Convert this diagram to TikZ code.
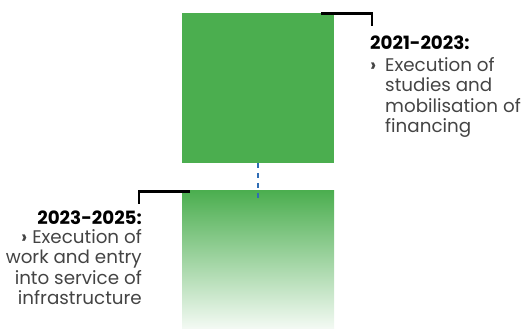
\documentclass[tikz,border=0pt]{standalone}
\usepackage{fontspec}
\setmainfont{Poppins}
\definecolor{grn}{HTML}{4BAE4F}
\definecolor{dashblue}{HTML}{2F6DB5}
\definecolor{bodytxt}{HTML}{444444}
\begin{document}
\begin{tikzpicture}[x=1pt,y=-1pt,
  bracket/.style={draw=black,line width=2.2pt},
  headtxt/.style={inner sep=0pt,font=\fontsize{18.3}{20.6}\selectfont\bfseries,text=black},
  bodytext/.style={inner sep=0pt,font=\fontsize{18.3}{20.6}\selectfont,text=bodytxt}]
\useasboundingbox (0,0) rectangle (522,329);
% boxes
\node[fill=grn,minimum width=152pt,minimum height=150pt,inner sep=0pt,anchor=north west] (top) at (182,13) {};
\node[top color=grn,bottom color=grn!6,minimum width=152pt,minimum height=139pt,inner sep=0pt,anchor=north west] (bot) at (182,190) {};
% dashed link
\coordinate (dashend) at (258,198);
\draw[dashblue,line width=2.6pt,dash pattern=on 5pt off 5pt] (top.south -| dashend) -- (dashend);
% top label
\node[headtxt,anchor=base west] (h1) at (370,50) {2021-2023:};
\node[bodytext,anchor=base west] (b1) at (370,71) {%
  \begin{tabular}[t]{@{}p{15pt}@{}l@{}}
  \textbf{›} & Execution of\\
  & studies and\\
  & mobilisation of\\
  & financing
  \end{tabular}};
\coordinate (t1a) at (321,13.5);
\coordinate (t1b) at (372,26);
\draw[bracket] (t1a) -- (t1a -| t1b) -- (t1b);
% bottom label
\node[headtxt,anchor=base east] (h2) at (142,224) {2023-2025:};
\node[bodytext,anchor=base east] (b2) at (142,243) {%
  \begin{tabular}[t]{@{}r@{}}
  \textbf{›} Execution of\\
  work and entry\\
  into service of\\
  infrastructure
  \end{tabular}};
\coordinate (t2a) at (190,191.5);
\coordinate (t2b) at (139,204);
\draw[bracket] (t2a) -- (t2a -| t2b) -- (t2b);
\end{tikzpicture}
\end{document}
